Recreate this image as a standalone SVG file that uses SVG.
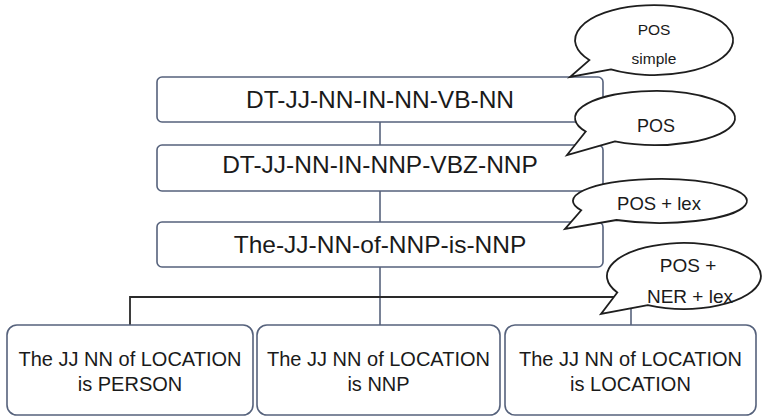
<svg xmlns="http://www.w3.org/2000/svg" width="763" height="420" viewBox="0 0 763 420">
<style>
.box{fill:#fff;stroke:#56627c;stroke-width:1.6}
.bub{fill:#fff;stroke:#1e1e1e;stroke-width:1.8;stroke-linejoin:miter}
.t{font-family:"Liberation Sans",Arial,sans-serif;fill:#1a1a1a;text-anchor:middle}
.big{font-size:24.5px}
.mid{font-size:20px}
.conn{fill:none;stroke:#4d5873;stroke-width:1.5}
.dark{fill:none;stroke:#2a2a2a;stroke-width:1.8}
</style>
<rect width="763" height="420" fill="#fff"/>
<g id="connectors">
<line class="conn" x1="380" y1="122" x2="380" y2="145"/>
<line class="conn" x1="380" y1="191" x2="380" y2="222"/>
<line class="conn" x1="380" y1="267" x2="380" y2="325"/>
<polyline class="dark" points="130,325 130,297 631,297"/>
<line class="conn" x1="631" y1="297" x2="631" y2="325"/>
</g>
<g id="n1"><rect class="box" x="157" y="77" width="446" height="45" rx="5"/><text class="t big" x="380" y="108">DT-JJ-NN-IN-NN-VB-NN</text></g>
<g id="n2"><rect class="box" x="157" y="145" width="446" height="46" rx="5"/><text class="t big" x="380" y="173">DT-JJ-NN-IN-NNP-VBZ-NNP</text></g>
<g id="n3"><rect class="box" x="157" y="222" width="446" height="45" rx="5"/><text class="t big" x="380" y="253">The-JJ-NN-of-NNP-is-NNP</text></g>
<g id="n4"><rect class="box" x="7" y="325" width="246" height="90" rx="10"/><text class="t mid" x="130" y="366">The JJ NN of LOCATION</text><text class="t mid" x="130" y="391">is PERSON</text></g>
<g id="n5"><rect class="box" x="257" y="325" width="243" height="90" rx="10"/><text class="t mid" x="378.5" y="366">The JJ NN of LOCATION</text><text class="t mid" x="378.5" y="391">is NNP</text></g>
<g id="n6"><rect class="box" x="505" y="325" width="251" height="90" rx="10"/><text class="t mid" x="630.5" y="366">The JJ NN of LOCATION</text><text class="t mid" x="630.5" y="391">is LOCATION</text></g>
<g id="b1"><path class="bub" d="M611,69.4 L570,77 L589.3,60.1 A79,35 0 1 1 611,69.4 Z"/><text class="t" font-size="15.5" x="654" y="35">POS</text><text class="t" font-size="15.5" x="654" y="64">simple</text></g>
<g id="b2"><path class="bub" d="M615,141.4 L567,155 L585.7,131.5 A80,27 0 1 1 615,141.4 Z"/><text class="t" font-size="18" x="656" y="132">POS</text></g>
<g id="b3"><path class="bub" d="M616.5,220 L565,229 L581.2,210.3 A87,22 0 1 1 616.5,220 Z"/><text class="t" font-size="18.5" x="659" y="210">POS + lex</text></g>
<g id="b4"><path class="bub" d="M647.8,305.1 L601,314 L617.3,292.5 A77,33 0 1 1 647.8,305.1 Z"/><text class="t" font-size="19" x="688" y="272">POS +</text><text class="t" font-size="19" x="690" y="303">NER + lex</text></g>
</svg>
